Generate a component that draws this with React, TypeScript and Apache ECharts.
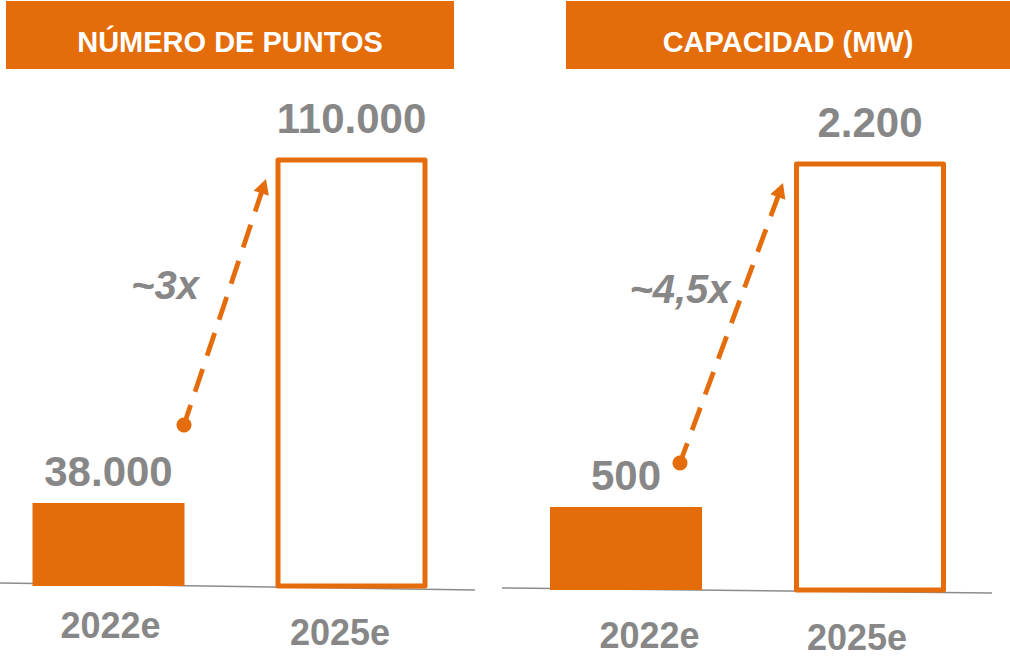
import React, { useEffect, useRef } from 'react';
import * as echarts from 'echarts';

// ---- data ----
const categories = ['2022e', '2025e'];
const puntosValues = [38000, 110000];
const capacidadValues = [500, 2200];
const panelTitles = ['NÚMERO DE PUNTOS', 'CAPACIDAD (MW)'];
const multipliers = ['~3x', '~4,5x'];
// hidden value-axis ranges (the infographic's bars are not drawn from zero)
const puntosAxisRange = [20700, 110000];
const capacidadAxisRange = [92, 2200];

const ORANGE = '#E46C0A';
const GRAY = '#878787';
const LINE_GRAY = '#8c8c8c';
const FONT = '"Liberation Sans", Arial, Helvetica, sans-serif';

function fmt(v: number): string {
  return String(v).replace(/\B(?=(\d{3})+(?!\d))/g, '.');
}

function barData(values: number[]) {
  return values.map((v, i) =>
    i === 0
      ? { value: v, itemStyle: { color: ORANGE }, label: { distance: 10.5 } }
      : {
          value: v,
          itemStyle: { color: '#ffffff', borderColor: ORANGE, borderWidth: 5, borderJoin: 'round' },
          label: { distance: 18 },
        }
  );
}

function arrow(x1: number, y1: number, x2: number, y2: number) {
  const dx = x2 - x1;
  const dy = y2 - y1;
  const len = Math.hypot(dx, dy);
  const ux = dx / len;
  const uy = dy / len;
  const hl = 15;
  const hw = 8;
  const bx = x2 - ux * (hl - 1);
  const by = y2 - uy * (hl - 1);
  const hbx = x2 - ux * hl;
  const hby = y2 - uy * hl;
  const nx = -uy;
  const ny = ux;
  return [
    {
      type: 'line',
      shape: { x1, y1, x2: bx, y2: by },
      style: { stroke: ORANGE, lineWidth: 4.8, lineDash: [24, 14], lineDashOffset: 3 },
    },
    { type: 'circle', shape: { cx: x1, cy: y1, r: 7.5 }, style: { fill: ORANGE } },
    {
      type: 'polygon',
      shape: {
        points: [
          [x2, y2],
          [hbx + nx * hw, hby + ny * hw],
          [hbx - nx * hw, hby - ny * hw],
        ],
      },
      style: { fill: ORANGE },
    },
  ];
}

function header(x: number, w: number, title: string) {
  return [
    { type: 'rect', shape: { x, y: 1, width: w, height: 68 }, style: { fill: ORANGE } },
    {
      type: 'text',
      x: x + w / 2,
      y: 42,
      style: {
        text: title,
        fill: '#ffffff',
        fontSize: 29,
        fontWeight: 'bold',
        fontFamily: FONT,
        textAlign: 'center',
        textVerticalAlign: 'middle',
      },
    },
  ];
}

function multText(x: number, y: number, t: string) {
  return {
    type: 'text',
    x,
    y,
    style: {
      text: t,
      fill: GRAY,
      fontSize: 40,
      fontWeight: 'bold',
      fontStyle: 'italic',
      fontFamily: FONT,
      textAlign: 'center',
      textVerticalAlign: 'middle',
    },
  };
}

function xAxisFor(gridIndex: number, margin: number, rich: any) {
  return {
    type: 'category',
    gridIndex,
    data: categories,
    axisLine: { show: false },
    axisTick: { show: false },
    splitLine: { show: false },
    axisLabel: {
      interval: 0,
      margin,
      formatter: (v: string) => `{${v === categories[0] ? 'a' : 'b'}|${v}}`,
      rich,
    },
  };
}

const catStyle = { fontSize: 36, fontWeight: 'bold', color: GRAY, fontFamily: FONT };

export default function App() {
  const ref = useRef<HTMLDivElement>(null);

  useEffect(() => {
    if (!ref.current) return;
    const chart = echarts.init(ref.current, undefined, { renderer: 'svg' });

    const valueLabel = {
      show: true,
      position: 'top',
      fontSize: 42,
      fontWeight: 'bold',
      color: GRAY,
      fontFamily: FONT,
      formatter: (p: any) => fmt(p.value),
    };

    chart.setOption({
      animation: false,
      backgroundColor: '#ffffff',
      grid: [
        { left: -13, top: 157.5, width: 486, height: 428.5, outerBoundsMode: 'none' },
        { left: 504, top: 161.5, width: 488, height: 428.5, outerBoundsMode: 'none' },
      ],
      xAxis: [
        xAxisFor(0, 21, {
          a: { ...catStyle, padding: [0, 0, 0, 4] },
          b: { ...catStyle, padding: [7, 23, 0, 0] },
        }),
        xAxisFor(1, 27, {
          a: { ...catStyle, padding: [0, 0, 0, 47] },
          b: { ...catStyle, padding: [2, 26, 0, 0] },
        }),
      ],
      yAxis: [
        { type: 'value', gridIndex: 0, min: puntosAxisRange[0], max: puntosAxisRange[1], show: false },
        { type: 'value', gridIndex: 1, min: capacidadAxisRange[0], max: capacidadAxisRange[1], show: false },
      ],
      series: [
        {
          type: 'bar',
          xAxisIndex: 0,
          yAxisIndex: 0,
          barWidth: 152,
          clip: true,
          z: 3,
          label: valueLabel,
          data: barData(puntosValues),
        },
        {
          type: 'bar',
          xAxisIndex: 1,
          yAxisIndex: 1,
          barWidth: 152,
          clip: true,
          z: 3,
          label: valueLabel,
          data: barData(capacidadValues),
        },
      ],
      graphic: [
        ...header(6, 448, panelTitles[0]),
        ...header(566, 444, panelTitles[1]),
        {
          type: 'line',
          shape: { x1: 0, y1: 583, x2: 475, y2: 590 },
          style: { stroke: LINE_GRAY, lineWidth: 1.5 },
        },
        {
          type: 'line',
          shape: { x1: 502, y1: 588, x2: 992, y2: 593 },
          style: { stroke: LINE_GRAY, lineWidth: 1.5 },
        },
        ...arrow(184, 425, 266, 179),
        ...arrow(680, 463, 783, 183),
        multText(165, 285, multipliers[0]),
        multText(680, 289, multipliers[1]),
      ],
    });

    return () => chart.dispose();
  }, []);

  return (
    <div
      ref={ref}
      style={{ position: 'absolute', left: 0, top: 0, width: 1010, height: 660 }}
    />
  );
}
